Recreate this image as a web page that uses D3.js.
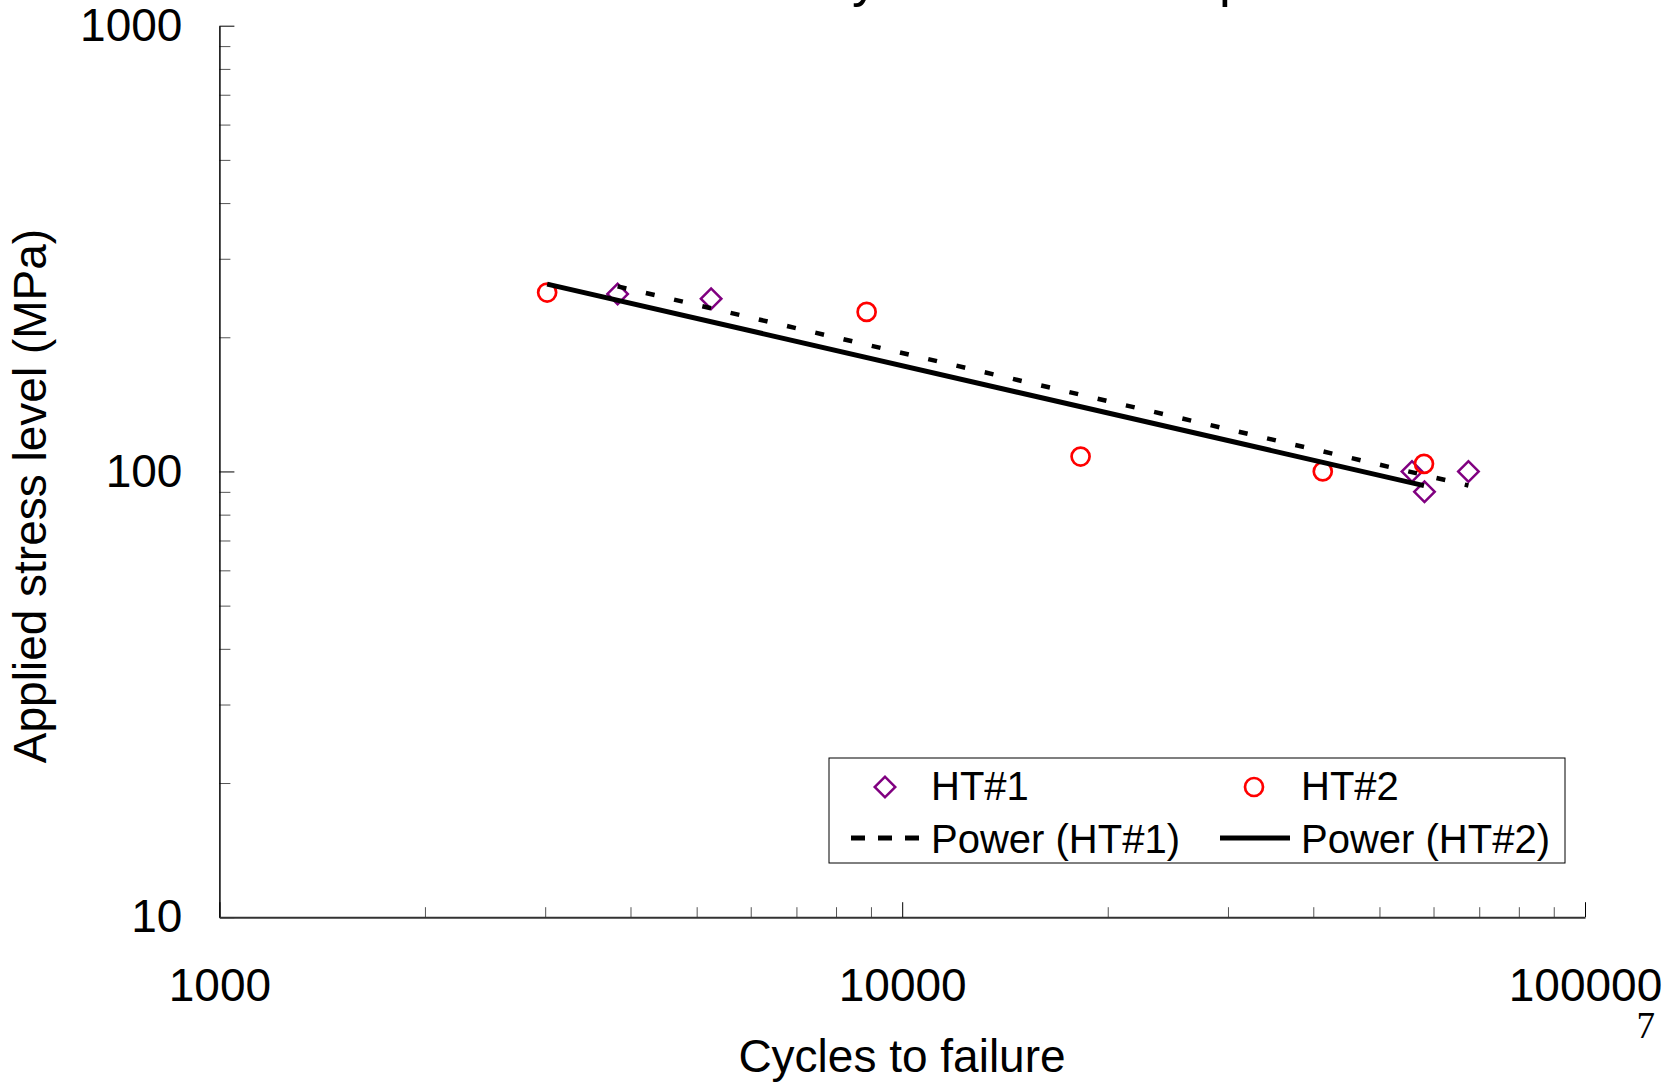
<!DOCTYPE html>
<html>
<head>
<meta charset="utf-8">
<script src="https://cdn.jsdelivr.net/npm/d3@7/dist/d3.min.js"></script>
<style>
  html, body { margin: 0; padding: 0; background: #fff; }
  svg { display: block; font-family: "Liberation Sans", Arial, sans-serif; }
</style>
</head>
<body>
<svg id="chart" width="1678" height="1083"></svg>
<script>
// 数据
const ht1Cycles = [3830, 5250, 55800, 58200, 67500];
const ht1Stress = [250, 244, 100, 90, 100];
const ht2Cycles = [3020, 8870, 18250, 41300, 58100];
const ht2Stress = [252, 228, 108, 100, 104];

const xMajorTicks = [1000, 10000, 100000];
const yMajorTicks = [10, 100, 1000];
const legendLabels = ['HT#1', 'HT#2', 'Power (HT#1)', 'Power (HT#2)'];

const svg = d3.select('#chart');

// 画布区域
const plot = { left: 219.4, right: 1585, top: 25.7, bottom: 917.2 };

const x = d3.scaleLog().domain([1000, 100000]).range([plot.left, plot.right]);
const y = d3.scaleLog().domain([10, 1000]).range([plot.bottom, plot.top]);

// 次刻度
const minorOf = (lo, hi) => {
  const out = [];
  for (let d = lo; d < hi; d *= 10) {
    for (let k = 2; k <= 9; k++) out.push(d * k);
  }
  return out;
};

// 标题（只露出下半部分）
const title = svg.append('text')
  .attr('font-size', 50)
  .attr('y', -4)
  .text('S-N curves by heat treat temperature');
{
  const node = title.node();
  const s = title.text();
  const iy = s.indexOf('y');
  const ip = s.indexOf('temp') + 3;
  const d = node.getStartPositionOfChar(ip).x - node.getStartPositionOfChar(iy).x;
  const fs = 50 * 367 / d;
  title.attr('font-size', fs);
  const off = node.getStartPositionOfChar(iy).x;
  title.attr('x', 852 - off);
}

// Y 轴
svg.append('g')
  .attr('transform', `translate(${plot.left},0)`)
  .call(d3.axisLeft(y).tickValues(minorOf(10, 1000)).tickSizeInner(-11).tickSizeOuter(0).tickFormat(''))
  .call(g => g.select('.domain').remove())
  .call(g => g.selectAll('line').attr('stroke', '#555'));

svg.append('g')
  .attr('transform', `translate(${plot.left},0)`)
  .call(d3.axisLeft(y).tickValues(yMajorTicks).tickSizeInner(-15).tickSizeOuter(0)
    .tickPadding(37).tickFormat(d3.format('d')))
  .call(g => g.select('.domain').attr('stroke', '#000').attr('stroke-width', 1.5))
  .call(g => g.selectAll('text').attr('font-size', 46).attr('font-family', null).attr('fill', '#000'));

// X 轴
svg.append('g')
  .attr('transform', `translate(0,${plot.bottom})`)
  .call(d3.axisBottom(x).tickValues(minorOf(1000, 100000)).tickSizeInner(-10).tickSizeOuter(0).tickFormat(''))
  .call(g => g.select('.domain').remove())
  .call(g => g.selectAll('line').attr('stroke', '#555'));

svg.append('g')
  .attr('transform', `translate(0,${plot.bottom})`)
  .call(d3.axisBottom(x).tickValues(xMajorTicks).tickSizeInner(-15).tickSizeOuter(0)
    .tickPadding(51).tickFormat(d3.format('d')))
  .call(g => g.select('.domain').attr('stroke', '#333').attr('stroke-width', 2))
  .call(g => g.selectAll('text').attr('font-size', 46).attr('font-family', null).attr('fill', '#000'));

// 轴标题
svg.append('text')
  .attr('x', 902).attr('y', 1072)
  .attr('text-anchor', 'middle')
  .attr('font-size', 46)
  .text('Cycles to failure');

svg.append('text')
  .attr('transform', 'translate(46,496) rotate(-90)')
  .attr('text-anchor', 'middle')
  .attr('font-size', 46)
  .text('Applied stress level (MPa)');

// 页码
svg.append('text')
  .attr('x', 1655).attr('y', 1038)
  .attr('text-anchor', 'end')
  .attr('font-family', '"Liberation Serif", "Times New Roman", serif')
  .attr('font-size', 37)
  .text('7');

// 数据点
const diamond = d3.symbol().type(d3.symbolSquare).size(210);

const ht1 = ht1Cycles.map((c, i) => ({ c, s: ht1Stress[i] }));
const ht2 = ht2Cycles.map((c, i) => ({ c, s: ht2Stress[i] }));

svg.append('g').selectAll('path')
  .data(ht1)
  .join('path')
  .attr('d', diamond)
  .attr('transform', d => `translate(${x(d.c)},${y(d.s)}) rotate(45)`)
  .attr('fill', 'none')
  .attr('stroke', '#800080')
  .attr('stroke-width', 2.5);

svg.append('g').selectAll('circle')
  .data(ht2)
  .join('circle')
  .attr('cx', d => x(d.c))
  .attr('cy', d => y(d.s))
  .attr('r', 9)
  .attr('fill', 'none')
  .attr('stroke', '#ff0000')
  .attr('stroke-width', 2.7);

// 幂函数拟合（对数-对数线性回归）
function powerFit (pts) {
  const lx = pts.map(p => Math.log10(p.c));
  const ly = pts.map(p => Math.log10(p.s));
  const mx = d3.mean(lx), my = d3.mean(ly);
  const b = d3.sum(lx, (v, i) => (v - mx) * (ly[i] - my)) / d3.sum(lx, v => (v - mx) * (v - mx));
  const a = my - b * mx;
  const [c0, c1] = d3.extent(pts, p => p.c);
  return [c0, c1].map(c => ({ c, s: Math.pow(10, a + b * Math.log10(c)) }));
}

const line = d3.line().x(d => x(d.c)).y(d => y(d.s));

svg.append('path')
  .attr('d', line(powerFit(ht1)))
  .attr('fill', 'none')
  .attr('stroke', '#000')
  .attr('stroke-width', 4.5)
  .attr('stroke-dasharray', '9,20');

svg.append('path')
  .attr('d', line(powerFit(ht2)))
  .attr('fill', 'none')
  .attr('stroke', '#000')
  .attr('stroke-width', 5);

// 图例
const lg = svg.append('g');
lg.append('rect')
  .attr('x', 829).attr('y', 758).attr('width', 736).attr('height', 105)
  .attr('fill', '#fff').attr('stroke', '#000').attr('stroke-width', 1);

lg.append('path')
  .attr('d', diamond)
  .attr('transform', 'translate(885,787) rotate(45)')
  .attr('fill', 'none').attr('stroke', '#800080').attr('stroke-width', 2.5);
lg.append('circle')
  .attr('cx', 1254).attr('cy', 787).attr('r', 9)
  .attr('fill', 'none').attr('stroke', '#ff0000').attr('stroke-width', 2.7);
lg.append('line')
  .attr('x1', 851).attr('x2', 919).attr('y1', 838).attr('y2', 838)
  .attr('stroke', '#000').attr('stroke-width', 5).attr('stroke-dasharray', '14,13');
lg.append('line')
  .attr('x1', 1220).attr('x2', 1290).attr('y1', 838).attr('y2', 838)
  .attr('stroke', '#000').attr('stroke-width', 5);

const legendPos = [[931, 800], [1301, 800], [931, 853], [1301, 853]];
lg.selectAll('text.lab')
  .data(legendLabels)
  .join('text')
  .attr('class', 'lab')
  .attr('x', (d, i) => legendPos[i][0])
  .attr('y', (d, i) => legendPos[i][1])
  .attr('font-size', 40)
  .text(d => d);
</script>
</body>
</html>
